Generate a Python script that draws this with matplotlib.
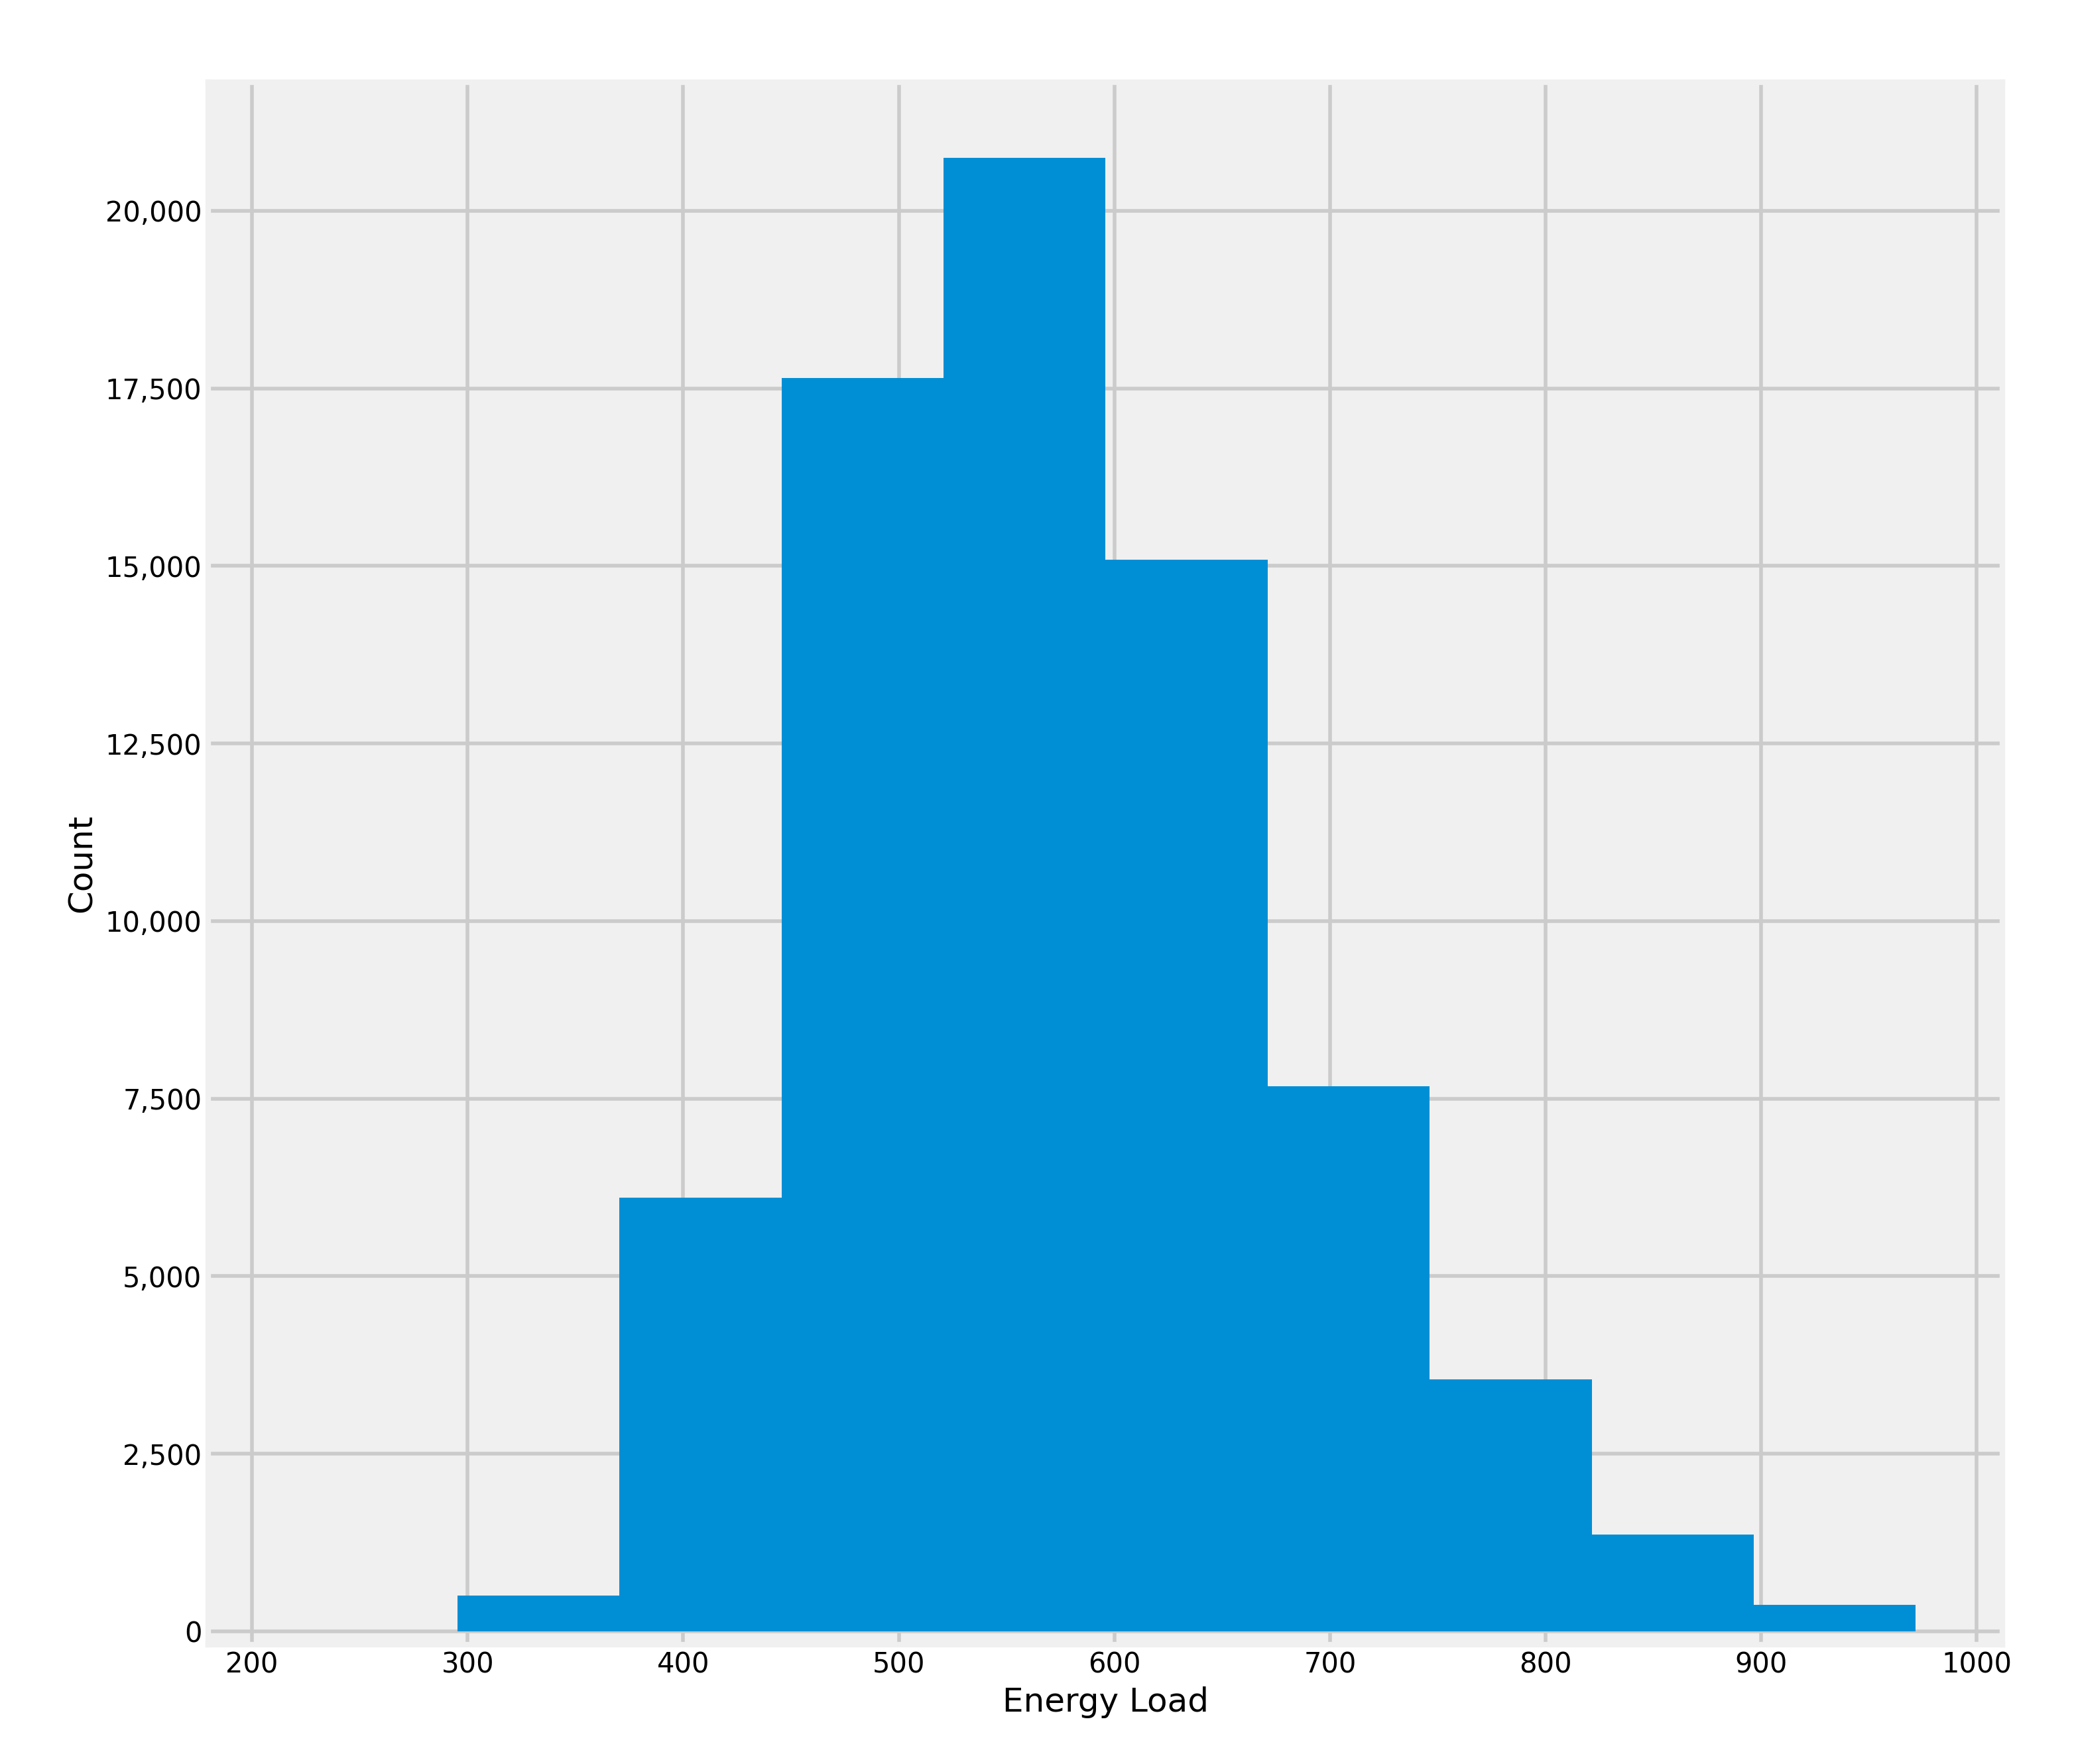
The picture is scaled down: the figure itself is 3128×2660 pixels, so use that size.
import matplotlib
matplotlib.use("Agg")
import matplotlib.pyplot as plt
from matplotlib.ticker import FuncFormatter

plt.style.use("fivethirtyeight")

# histogram bin edges and counts
bin_edges = [295.4, 370.5, 445.6, 520.8, 595.9, 671.1, 746.2, 821.4, 896.5, 971.7]
counts = [504, 6106, 17647, 20747, 15089, 7675, 3548, 1363, 373]

fig = plt.figure(figsize=(15.64, 13.3), dpi=200, facecolor="white")
ax = fig.add_axes([0.1004, 0.0677, 0.8652, 0.8857])
ax.set_facecolor("#f0f0f0")

widths = [b - a for a, b in zip(bin_edges[:-1], bin_edges[1:])]
ax.bar(bin_edges[:-1], counts, width=widths, align="edge", color="#008fd5", linewidth=0)

ax.set_xlim(179.7, 1012)
ax.set_ylim(-187, 21811)
ax.set_xticks(range(200, 1001, 100))
ax.set_yticks(range(0, 20001, 2500))
ax.yaxis.set_major_formatter(FuncFormatter(lambda v, p: f"{int(v):,}"))
ax.tick_params(labelsize=15)
ax.set_xlabel("Energy Load", fontsize=18)
ax.set_ylabel("Count", fontsize=18)
ax.grid(True, color="#cbcbcb", linewidth=2)
ax.set_axisbelow(True)

fig.savefig("out.png", dpi=200, facecolor="white")
